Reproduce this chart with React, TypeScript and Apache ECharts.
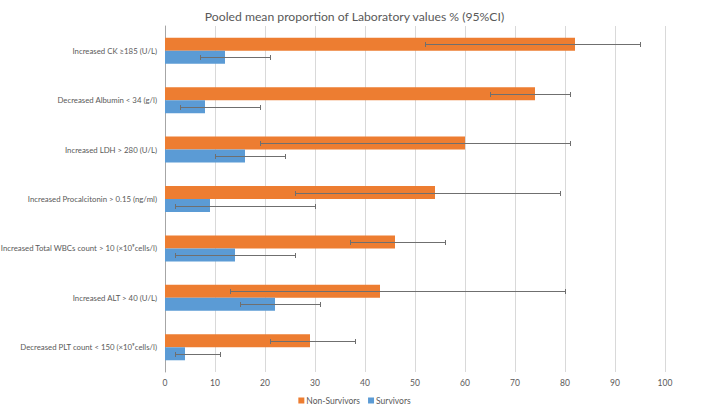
import React, { useEffect, useRef } from "react";
import * as echarts from "echarts";

const categories = [
  "Increased CK ≥185 (U/L)",
  "Decreased Albumin < 34 (g/l)",
  "Increased LDH > 280 (U/L)",
  "Increased Procalcitonin > 0.15 (ng/ml)",
  "Increased Total WBCs count > 10 (×10⁹cells/l)",
  "Increased ALT > 40 (U/L)",
  "Decreased PLT count < 150 (×10⁹cells/l)",
];
const nonSurvivors = [82, 74, 60, 54, 46, 43, 29];
const nonSurvivorsLow = [52, 65, 19, 26, 37, 13, 21];
const nonSurvivorsHigh = [95, 81, 81, 79, 56, 80, 38];
const survivors = [12, 8, 16, 9, 14, 22, 4];
const survivorsLow = [7, 3, 10, 2, 2, 15, 2];
const survivorsHigh = [21, 19, 24, 30, 26, 31, 11];
const xTicks = [0, 10, 20, 30, 40, 50, 60, 70, 80, 90, 100];

const FONT = "Lato";
const TEXT = "#595959";
const BAR_W = 13;

function errorSeries(name: string, lo: number[], hi: number[], offset: number) {
  return {
    type: "custom",
    name: name + " CI",
    silent: true,
    z: 10,
    encode: { x: [1, 2], y: 0 },
    data: categories.map((_, i) => [i, lo[i], hi[i]]),
    renderItem: (params: any, api: any) => {
      const cat = api.value(0);
      const p1 = api.coord([api.value(1), cat]);
      const p2 = api.coord([api.value(2), cat]);
      const y = Math.round(p1[1] + offset) + 0.5;
      const x1 = Math.round(p1[0]) + 0.5;
      const x2 = Math.round(p2[0]) + 0.5;
      const style = { stroke: "#6f6f6f", lineWidth: 1 };
      return {
        type: "group",
        children: [
          { type: "line", shape: { x1, y1: y, x2, y2: y }, style },
          { type: "line", shape: { x1, y1: y - 2.5, x2: x1, y2: y + 2.5 }, style },
          { type: "line", shape: { x1: x2, y1: y - 2.5, x2, y2: y + 2.5 }, style },
        ],
      };
    },
  };
}

export default function App() {
  const ref = useRef<HTMLDivElement>(null);
  useEffect(() => {
    if (!ref.current) return;
    const chart = echarts.init(ref.current, undefined, { renderer: "svg" });
    chart.setOption({
      animation: false,
      backgroundColor: "#ffffff",
      textStyle: { fontFamily: FONT },
      title: {
        text: "Pooled mean proportion of Laboratory values % (95%CI)",
        left: "center",
        top: 5,
        textStyle: { fontFamily: FONT, fontSize: 12.2, fontWeight: "normal", color: TEXT },
      },
      legend: {
        data: ["Non-Survivors", "Survivors"],
        left: "center",
        top: 391,
        itemWidth: 6,
        itemHeight: 6,
        itemGap: 8,
        icon: "rect",
        textStyle: { fontFamily: FONT, fontSize: 8.5, color: TEXT, padding: [0, 0, 0, -3] },
      },
      grid: {
        left: 165,
        right: 44,
        top: 26,
        bottom: 34,
        containLabel: false,
        outerBoundsMode: "none",
      },
      xAxis: {
        type: "value",
        min: 0,
        max: 100,
        interval: 10,
        axisLine: { show: false },
        axisTick: { show: false },
        axisLabel: {
          fontFamily: FONT,
          fontSize: 8.5,
          color: TEXT,
          margin: 6,
          formatter: (v: number) => (xTicks.includes(v) ? String(v) : ""),
        },
        splitLine: { show: true, lineStyle: { color: "#d9d9d9", width: 1 } },
      },
      yAxis: {
        type: "category",
        data: categories,
        inverse: true,
        axisLine: { show: true, lineStyle: { color: "#a6a6a6", width: 1 } },
        axisTick: { show: false },
        axisLabel: { fontFamily: FONT, fontSize: 7.8, color: TEXT, margin: 8 },
      },
      series: [
        {
          name: "Non-Survivors",
          type: "bar",
          data: nonSurvivors,
          barWidth: BAR_W,
          barGap: "0%",
          itemStyle: { color: "#ED7D31" },
        },
        {
          name: "Survivors",
          type: "bar",
          data: survivors,
          barWidth: BAR_W,
          barGap: "0%",
          itemStyle: { color: "#5B9BD5" },
        },
        errorSeries("Non-Survivors", nonSurvivorsLow, nonSurvivorsHigh, -BAR_W / 2),
        errorSeries("Survivors", survivorsLow, survivorsHigh, BAR_W / 2),
      ],
    });
    return () => chart.dispose();
  }, []);
  return (
    <div
      ref={ref}
      style={{ position: "fixed", left: 0, top: 0, width: 709, height: 406 }}
    />
  );
}
